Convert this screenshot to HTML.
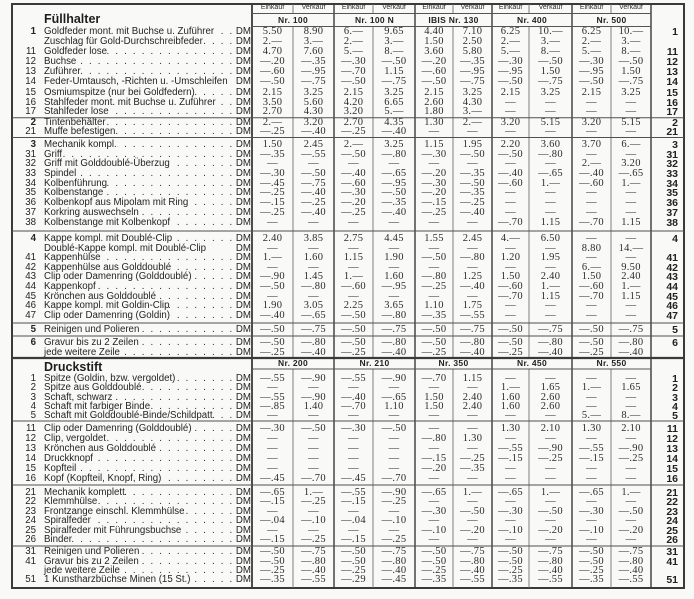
<!DOCTYPE html>
<html><head><meta charset="utf-8">
<style>
*{margin:0;padding:0}
body{width:694px;height:599px;background:#f9f9f7;overflow:hidden;position:relative;font-family:"Liberation Sans",sans-serif;color:#242424}
svg{position:absolute;left:0;top:0}
.r{position:absolute;left:0;width:694px;height:12px;line-height:12px;font-size:9.7px}
.n{position:absolute;left:4px;width:32px;text-align:right}
.b{font-weight:bold}
.l{position:absolute;left:44px;width:207px;display:flex;white-space:nowrap}
.l i{flex:1 1 0;overflow:hidden;direction:rtl;font-style:normal;letter-spacing:1.7px;padding-left:3px;min-width:0}
.l i:before{content:". . . . . . . . . . . . . . . . . . . . . . . . . . . . . . . . . . . . . . . ."}
.l i.x:before{content:""}
.l em{font-style:normal;padding-left:2px}
.g{position:absolute;left:252px;top:0;display:grid;grid-template-columns:41px 41px 39px 42px 38px 39px 37px 43px 39px 40px 33px;font-family:"Liberation Serif",serif;font-size:10.5px;letter-spacing:0.3px;color:#2c2c2c}
.g u{text-decoration:none;text-align:center}
.g u.k{text-align:right;padding-right:6px;font-family:"Liberation Sans",sans-serif;font-weight:bold;font-size:10.5px;letter-spacing:0;color:#222}
.hd{position:absolute;left:252px;display:grid;grid-template-columns:41px 41px 39px 42px 38px 39px 37px 43px 39px 40px;font-size:7px;line-height:12px;color:#2e2e2e}
.hd span{text-align:center}
.nr{position:absolute;left:252px;display:grid;grid-template-columns:82px 81px 77px 80px 79px;font-size:8.5px;font-weight:bold;letter-spacing:0.3px;line-height:11px;color:#222}
.nr span{text-align:center}
.t{position:absolute;left:44px;font-size:12.5px;font-weight:bold;line-height:16px;color:#1e1e1e}
</style></head><body>
<svg width="694" height="599">
<g stroke="#3a3a3a" fill="none">
<rect x="12" y="4" width="672" height="584" stroke-width="2"/>
<path stroke-width="1.8" d="M252 4V588"/>
<path stroke-width="1.4" d="M334 4V588M415 4V588M492 4V588M572 4V588M651 4V588"/>
<path stroke-width="0.9" stroke="#707070" d="M293 4V13.5M373 4V13.5M453 4V13.5M529 4V13.5M611 4V13.5M293 26.5V358M373 26.5V358M453 26.5V358M529 26.5V358M611 26.5V358M293 369V588M373 369V588M453 369V588M529 369V588M611 369V588"/>
<path stroke-width="0.9" stroke="#555" d="M252 13.5H651M252 26.5H651M252 369H651"/>
<path stroke-width="1" stroke="#505050" d="M12 117.8H684M12 137.5H684M12 231H684M12 323H684M12 336H684M12 421H684M12 485H684M12 546H684"/>
<path stroke-width="2.2" d="M12 358H684"/>
</g></svg>

<div class="hd" style="top:2px"><span>Einkauf</span><span>Verkauf</span><span>Einkauf</span><span>Verkauf</span><span>Einkauf</span><span>Verkauf</span><span>Einkauf</span><span>Verkauf</span><span>Einkauf</span><span>Verkauf</span></div>
<div class="nr" style="top:14.5px"><span>Nr. 100</span><span>Nr. 100 N</span><span>IBIS Nr. 130</span><span>Nr. 400</span><span>Nr. 500</span></div>
<div class="t" style="top:11px">Füllhalter</div>

<div class="r" style="top:26px"><span class="n b">1</span><div class="l">Goldfeder mont. mit Buchse u. Zuführer<i></i><em>DM</em></div><div class="g"><u>5.50</u><u>8.90</u><u>6.—</u><u>9.65</u><u>4.40</u><u>7.10</u><u>6.25</u><u>10.—</u><u>6.25</u><u>10.—</u><u class="k">1</u></div></div>
<div class="r" style="top:36px"><span class="n"></span><div class="l">Zuschlag für Gold-Durchschreibfeder<i></i><em>DM</em></div><div class="g"><u>2.—</u><u>3.—</u><u>2.—</u><u>3.—</u><u>1.50</u><u>2.50</u><u>2.—</u><u>3.—</u><u>2.—</u><u>3.—</u><u class="k"></u></div></div>
<div class="r" style="top:46px"><span class="n">11</span><div class="l">Goldfeder lose<i></i><em>DM</em></div><div class="g"><u>4.70</u><u>7.60</u><u>5.—</u><u>8.—</u><u>3.60</u><u>5.80</u><u>5.—</u><u>8.—</u><u>5.—</u><u>8.—</u><u class="k">11</u></div></div>
<div class="r" style="top:56px"><span class="n">12</span><div class="l">Buchse<i></i><em>DM</em></div><div class="g"><u>—.20</u><u>—.35</u><u>—.30</u><u>—.50</u><u>—.20</u><u>—.35</u><u>—.30</u><u>—.50</u><u>—.30</u><u>—.50</u><u class="k">12</u></div></div>
<div class="r" style="top:66px"><span class="n">13</span><div class="l">Zuführer<i></i><em>DM</em></div><div class="g"><u>—.60</u><u>—.95</u><u>—.70</u><u>1.15</u><u>—.60</u><u>—.95</u><u>—.95</u><u>1.50</u><u>—.95</u><u>1.50</u><u class="k">13</u></div></div>
<div class="r" style="top:76px"><span class="n">14</span><div class="l">Feder-Umtausch, -Richten u. -Umschleifen<i class="x"></i><em>DM</em></div><div class="g"><u>—.50</u><u>—.75</u><u>—.50</u><u>—.75</u><u>—.50</u><u>—.75</u><u>—.50</u><u>—.75</u><u>—.50</u><u>—.75</u><u class="k">14</u></div></div>
<div class="r" style="top:86.5px"><span class="n">15</span><div class="l">Osmiumspitze (nur bei Goldfedern)<i></i><em>DM</em></div><div class="g"><u>2.15</u><u>3.25</u><u>2.15</u><u>3.25</u><u>2.15</u><u>3.25</u><u>2.15</u><u>3.25</u><u>2.15</u><u>3.25</u><u class="k">15</u></div></div>
<div class="r" style="top:96.5px"><span class="n">16</span><div class="l">Stahlfeder mont. mit Buchse u. Zuführer<i></i><em>DM</em></div><div class="g"><u>3.50</u><u>5.60</u><u>4.20</u><u>6.65</u><u>2.60</u><u>4.30</u><u>—</u><u>—</u><u>—</u><u>—</u><u class="k">16</u></div></div>
<div class="r" style="top:106px"><span class="n">17</span><div class="l">Stahlfeder lose<i></i><em>DM</em></div><div class="g"><u>2.70</u><u>4.30</u><u>3.20</u><u>5.—</u><u>1.80</u><u>3.—</u><u>—</u><u>—</u><u>—</u><u>—</u><u class="k">17</u></div></div>
<div class="r" style="top:117px"><span class="n b">2</span><div class="l">Tintenbehälter<i></i><em>DM</em></div><div class="g"><u>2.—</u><u>3.20</u><u>2.70</u><u>4.35</u><u>1.30</u><u>2.—</u><u>3.20</u><u>5.15</u><u>3.20</u><u>5.15</u><u class="k">2</u></div></div>
<div class="r" style="top:126px"><span class="n">21</span><div class="l">Muffe befestigen<i></i><em>DM</em></div><div class="g"><u>—.25</u><u>—.40</u><u>—.25</u><u>—.40</u><u>—</u><u>—</u><u>—</u><u>—</u><u>—</u><u>—</u><u class="k">21</u></div></div>
<div class="r" style="top:139px"><span class="n b">3</span><div class="l">Mechanik kompl.<i></i><em>DM</em></div><div class="g"><u>1.50</u><u>2.45</u><u>2.—</u><u>3.25</u><u>1.15</u><u>1.95</u><u>2.20</u><u>3.60</u><u>3.70</u><u>6.—</u><u class="k">3</u></div></div>
<div class="r" style="top:148.5px"><span class="n">31</span><div class="l">Griff<i></i><em>DM</em></div><div class="g"><u>—.35</u><u>—.55</u><u>—.50</u><u>—.80</u><u>—.30</u><u>—.50</u><u>—.50</u><u>—.80</u><u>—</u><u>—</u><u class="k">31</u></div></div>
<div class="r" style="top:158px"><span class="n">32</span><div class="l">Griff mit Golddoublé-Überzug<i></i><em>DM</em></div><div class="g"><u>—</u><u>—</u><u>—</u><u>—</u><u>—</u><u>—</u><u>—</u><u>—</u><u>2.—</u><u>3.20</u><u class="k">32</u></div></div>
<div class="r" style="top:168px"><span class="n">33</span><div class="l">Spindel<i></i><em>DM</em></div><div class="g"><u>—.30</u><u>—.50</u><u>—.40</u><u>—.65</u><u>—.20</u><u>—.35</u><u>—.40</u><u>—.65</u><u>—.40</u><u>—.65</u><u class="k">33</u></div></div>
<div class="r" style="top:177.5px"><span class="n">34</span><div class="l">Kolbenführung<i></i><em>DM</em></div><div class="g"><u>—.45</u><u>—.75</u><u>—.60</u><u>—.95</u><u>—.30</u><u>—.50</u><u>—.60</u><u>1.—</u><u>—.60</u><u>1.—</u><u class="k">34</u></div></div>
<div class="r" style="top:187px"><span class="n">35</span><div class="l">Kolbenstange<i></i><em>DM</em></div><div class="g"><u>—.25</u><u>—.40</u><u>—.30</u><u>—.50</u><u>—.20</u><u>—.35</u><u>—</u><u>—</u><u>—</u><u>—</u><u class="k">35</u></div></div>
<div class="r" style="top:197px"><span class="n">36</span><div class="l">Kolbenkopf aus Mipolam mit Ring<i></i><em>DM</em></div><div class="g"><u>—.15</u><u>—.25</u><u>—.20</u><u>—.35</u><u>—.15</u><u>—.25</u><u>—</u><u>—</u><u>—</u><u>—</u><u class="k">36</u></div></div>
<div class="r" style="top:206.5px"><span class="n">37</span><div class="l">Korkring auswechseln<i></i><em>DM</em></div><div class="g"><u>—.25</u><u>—.40</u><u>—.25</u><u>—.40</u><u>—.25</u><u>—.40</u><u>—</u><u>—</u><u>—</u><u>—</u><u class="k">37</u></div></div>
<div class="r" style="top:216.5px"><span class="n">38</span><div class="l">Kolbenstange mit Kolbenkopf<i></i><em>DM</em></div><div class="g"><u>—</u><u>—</u><u>—</u><u>—</u><u>—</u><u>—</u><u>—.70</u><u>1.15</u><u>—.70</u><u>1.15</u><u class="k">38</u></div></div>
<div class="r" style="top:233px"><span class="n b">4</span><div class="l">Kappe kompl. mit Doublé-Clip<i></i><em>DM</em></div><div class="g"><u>2.40</u><u>3.85</u><u>2.75</u><u>4.45</u><u>1.55</u><u>2.45</u><u>4.—</u><u>6.50</u><u>—</u><u>—</u><u class="k">4</u></div></div>
<div class="r" style="top:243px"><span class="n"></span><div class="l">Doublé-Kappe kompl. mit Doublé-Clip<i class="x"></i><em>DM</em></div><div class="g"><u>—</u><u>—</u><u>—</u><u>—</u><u>—</u><u>—</u><u>—</u><u>—</u><u>8.80</u><u>14.—</u><u class="k"></u></div></div>
<div class="r" style="top:252px"><span class="n">41</span><div class="l">Kappenhülse<i></i><em>DM</em></div><div class="g"><u>1.—</u><u>1.60</u><u>1.15</u><u>1.90</u><u>—.50</u><u>—.80</u><u>1.20</u><u>1.95</u><u>—</u><u>—</u><u class="k">41</u></div></div>
<div class="r" style="top:262px"><span class="n">42</span><div class="l">Kappenhülse aus Golddoublé<i></i><em>DM</em></div><div class="g"><u>—</u><u>—</u><u>—</u><u>—</u><u>—</u><u>—</u><u>—</u><u>—</u><u>6.—</u><u>9.50</u><u class="k">42</u></div></div>
<div class="r" style="top:271px"><span class="n">43</span><div class="l">Clip oder Damenring (Golddoublé)<i></i><em>DM</em></div><div class="g"><u>—.90</u><u>1.45</u><u>1.—</u><u>1.60</u><u>—.80</u><u>1.25</u><u>1.50</u><u>2.40</u><u>1.50</u><u>2.40</u><u class="k">43</u></div></div>
<div class="r" style="top:281px"><span class="n">44</span><div class="l">Kappenkopf<i></i><em>DM</em></div><div class="g"><u>—.50</u><u>—.80</u><u>—.60</u><u>—.95</u><u>—.25</u><u>—.40</u><u>—.60</u><u>1.—</u><u>—.60</u><u>1.—</u><u class="k">44</u></div></div>
<div class="r" style="top:290.5px"><span class="n">45</span><div class="l">Krönchen aus Golddoublé<i></i><em>DM</em></div><div class="g"><u>—</u><u>—</u><u>—</u><u>—</u><u>—</u><u>—</u><u>—.70</u><u>1.15</u><u>—.70</u><u>1.15</u><u class="k">45</u></div></div>
<div class="r" style="top:300px"><span class="n">46</span><div class="l">Kappe kompl. mit Goldin-Clip<i></i><em>DM</em></div><div class="g"><u>1.90</u><u>3.05</u><u>2.25</u><u>3.65</u><u>1.10</u><u>1.75</u><u>—</u><u>—</u><u>—</u><u>—</u><u class="k">46</u></div></div>
<div class="r" style="top:310px"><span class="n">47</span><div class="l">Clip oder Damenring (Goldin)<i></i><em>DM</em></div><div class="g"><u>—.40</u><u>—.65</u><u>—.50</u><u>—.80</u><u>—.35</u><u>—.55</u><u>—</u><u>—</u><u>—</u><u>—</u><u class="k">47</u></div></div>
<div class="r" style="top:324px"><span class="n b">5</span><div class="l">Reinigen und Polieren<i></i><em>DM</em></div><div class="g"><u>—.50</u><u>—.75</u><u>—.50</u><u>—.75</u><u>—.50</u><u>—.75</u><u>—.50</u><u>—.75</u><u>—.50</u><u>—.75</u><u class="k">5</u></div></div>
<div class="r" style="top:337px"><span class="n b">6</span><div class="l">Gravur bis zu 2 Zeilen<i></i><em>DM</em></div><div class="g"><u>—.50</u><u>—.80</u><u>—.50</u><u>—.80</u><u>—.50</u><u>—.80</u><u>—.50</u><u>—.80</u><u>—.50</u><u>—.80</u><u class="k">6</u></div></div>
<div class="r" style="top:346.5px"><span class="n"></span><div class="l">jede weitere Zeile<i></i><em>DM</em></div><div class="g"><u>—.25</u><u>—.40</u><u>—.25</u><u>—.40</u><u>—.25</u><u>—.40</u><u>—.25</u><u>—.40</u><u>—.25</u><u>—.40</u><u class="k"></u></div></div>

<div class="nr" style="top:358px"><span>Nr. 200</span><span>Nr. 210</span><span>Nr. 350</span><span>Nr. 450</span><span>Nr. 550</span></div>
<div class="t" style="top:358.5px">Druckstift</div>

<div class="r" style="top:372.5px"><span class="n">1</span><div class="l">Spitze (Goldin, bzw. vergoldet)<i></i><em>DM</em></div><div class="g"><u>—.55</u><u>—.90</u><u>—.55</u><u>—.90</u><u>—.70</u><u>1.15</u><u>—</u><u>—</u><u>—</u><u>—</u><u class="k">1</u></div></div>
<div class="r" style="top:382px"><span class="n">2</span><div class="l">Spitze aus Golddoublé<i></i><em>DM</em></div><div class="g"><u>—</u><u>—</u><u>—</u><u>—</u><u>—</u><u>—</u><u>1.—</u><u>1.65</u><u>1.—</u><u>1.65</u><u class="k">2</u></div></div>
<div class="r" style="top:391.5px"><span class="n">3</span><div class="l">Schaft, schwarz<i></i><em>DM</em></div><div class="g"><u>—.55</u><u>—.90</u><u>—.40</u><u>—.65</u><u>1.50</u><u>2.40</u><u>1.60</u><u>2.60</u><u>—</u><u>—</u><u class="k">3</u></div></div>
<div class="r" style="top:401px"><span class="n">4</span><div class="l">Schaft mit farbiger Binde<i></i><em>DM</em></div><div class="g"><u>—.85</u><u>1.40</u><u>—.70</u><u>1.10</u><u>1.50</u><u>2.40</u><u>1.60</u><u>2.60</u><u>—</u><u>—</u><u class="k">4</u></div></div>
<div class="r" style="top:410px"><span class="n">5</span><div class="l">Schaft mit Golddoublé-Binde/Schildpatt<i></i><em>DM</em></div><div class="g"><u>—</u><u>—</u><u>—</u><u>—</u><u>—</u><u>—</u><u>—</u><u>—</u><u>5.—</u><u>8.—</u><u class="k">5</u></div></div>
<div class="r" style="top:422.5px"><span class="n">11</span><div class="l">Clip oder Damenring (Golddoublé)<i></i><em>DM</em></div><div class="g"><u>—.30</u><u>—.50</u><u>—.30</u><u>—.50</u><u>—</u><u>—</u><u>1.30</u><u>2.10</u><u>1.30</u><u>2.10</u><u class="k">11</u></div></div>
<div class="r" style="top:432.5px"><span class="n">12</span><div class="l">Clip, vergoldet<i></i><em>DM</em></div><div class="g"><u>—</u><u>—</u><u>—</u><u>—</u><u>—.80</u><u>1.30</u><u>—</u><u>—</u><u>—</u><u>—</u><u class="k">12</u></div></div>
<div class="r" style="top:442.5px"><span class="n">13</span><div class="l">Krönchen aus Golddoublé<i></i><em>DM</em></div><div class="g"><u>—</u><u>—</u><u>—</u><u>—</u><u>—</u><u>—</u><u>—.55</u><u>—.90</u><u>—.55</u><u>—.90</u><u class="k">13</u></div></div>
<div class="r" style="top:452.5px"><span class="n">14</span><div class="l">Druckknopf<i></i><em>DM</em></div><div class="g"><u>—</u><u>—</u><u>—</u><u>—</u><u>—.15</u><u>—.25</u><u>—.15</u><u>—.25</u><u>—.15</u><u>—.25</u><u class="k">14</u></div></div>
<div class="r" style="top:463px"><span class="n">15</span><div class="l">Kopfteil<i></i><em>DM</em></div><div class="g"><u>—</u><u>—</u><u>—</u><u>—</u><u>—.20</u><u>—.35</u><u>—</u><u>—</u><u>—</u><u>—</u><u class="k">15</u></div></div>
<div class="r" style="top:473px"><span class="n">16</span><div class="l">Kopf (Kopfteil, Knopf, Ring)<i></i><em>DM</em></div><div class="g"><u>—.45</u><u>—.70</u><u>—.45</u><u>—.70</u><u>—</u><u>—</u><u>—</u><u>—</u><u>—</u><u>—</u><u class="k">16</u></div></div>
<div class="r" style="top:486.5px"><span class="n">21</span><div class="l">Mechanik komplett<i></i><em>DM</em></div><div class="g"><u>—.65</u><u>1.—</u><u>—.55</u><u>—.90</u><u>—.65</u><u>1.—</u><u>—.65</u><u>1.—</u><u>—.65</u><u>1.—</u><u class="k">21</u></div></div>
<div class="r" style="top:496px"><span class="n">22</span><div class="l">Klemmhülse<i></i><em>DM</em></div><div class="g"><u>—.15</u><u>—.25</u><u>—.15</u><u>—.25</u><u>—</u><u>—</u><u>—</u><u>—</u><u>—</u><u>—</u><u class="k">22</u></div></div>
<div class="r" style="top:505.5px"><span class="n">23</span><div class="l">Frontzange einschl. Klemmhülse<i></i><em>DM</em></div><div class="g"><u>—</u><u>—</u><u>—</u><u>—</u><u>—.30</u><u>—.50</u><u>—.30</u><u>—.50</u><u>—.30</u><u>—.50</u><u class="k">23</u></div></div>
<div class="r" style="top:515px"><span class="n">24</span><div class="l">Spiralfeder<i></i><em>DM</em></div><div class="g"><u>—.04</u><u>—.10</u><u>—.04</u><u>—.10</u><u>—</u><u>—</u><u>—</u><u>—</u><u>—</u><u>—</u><u class="k">24</u></div></div>
<div class="r" style="top:524.5px"><span class="n">25</span><div class="l">Spiralfeder mit Führungsbuchse<i></i><em>DM</em></div><div class="g"><u>—</u><u>—</u><u>—</u><u>—</u><u>—.10</u><u>—.20</u><u>—.10</u><u>—.20</u><u>—.10</u><u>—.20</u><u class="k">25</u></div></div>
<div class="r" style="top:534px"><span class="n">26</span><div class="l">Binder<i></i><em>DM</em></div><div class="g"><u>—.15</u><u>—.25</u><u>—.15</u><u>—.25</u><u>—</u><u>—</u><u>—</u><u>—</u><u>—</u><u>—</u><u class="k">26</u></div></div>
<div class="r" style="top:546px"><span class="n">31</span><div class="l">Reinigen und Polieren<i></i><em>DM</em></div><div class="g"><u>—.50</u><u>—.75</u><u>—.50</u><u>—.75</u><u>—.50</u><u>—.75</u><u>—.50</u><u>—.75</u><u>—.50</u><u>—.75</u><u class="k">31</u></div></div>
<div class="r" style="top:555.5px"><span class="n">41</span><div class="l">Gravur bis zu 2 Zeilen<i></i><em>DM</em></div><div class="g"><u>—.50</u><u>—.80</u><u>—.50</u><u>—.80</u><u>—.50</u><u>—.80</u><u>—.50</u><u>—.80</u><u>—.50</u><u>—.80</u><u class="k">41</u></div></div>
<div class="r" style="top:564.5px"><span class="n"></span><div class="l">jede weitere Zeile<i></i><em>DM</em></div><div class="g"><u>—.25</u><u>—.40</u><u>—.25</u><u>—.40</u><u>—.25</u><u>—.40</u><u>—.25</u><u>—.40</u><u>—.25</u><u>—.40</u><u class="k"></u></div></div>
<div class="r" style="top:573.5px"><span class="n">51</span><div class="l">1 Kunstharzbüchse Minen (15 St.)<i></i><em>DM</em></div><div class="g"><u>—.35</u><u>—.55</u><u>—.29</u><u>—.45</u><u>—.35</u><u>—.55</u><u>—.35</u><u>—.55</u><u>—.35</u><u>—.55</u><u class="k">51</u></div></div>
</body></html>
